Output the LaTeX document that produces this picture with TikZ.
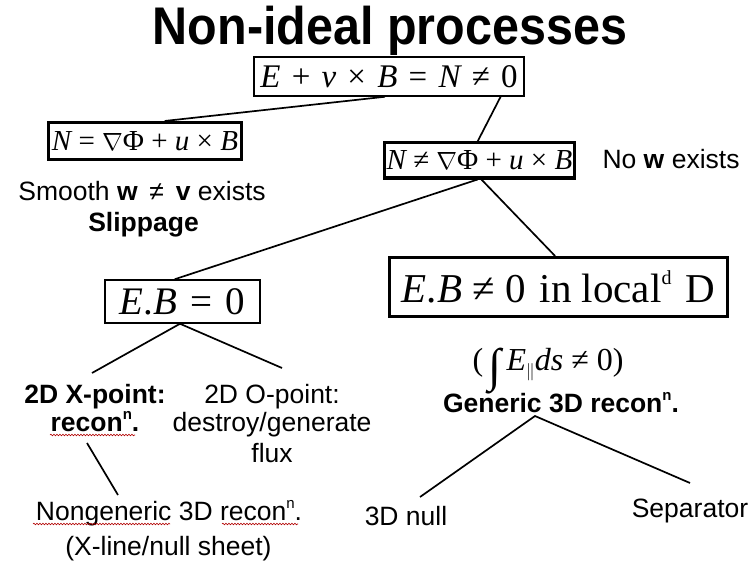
\documentclass[tikz,border=0pt]{standalone}
\usepackage{graphicx}
\usepackage{fontspec}
\setmainfont{Liberation Sans}
\newfontfamily\tms{Liberation Serif}
\usetikzlibrary{calc,decorations.pathmorphing}
\newcommand{\sz}[1]{\fontsize{#1}{#1}\selectfont}
\newcommand{\mi}[1]{{\itshape #1}}
\newcommand{\gp}{\hspace{0.34em}}
\newcommand{\nsup}[1]{\raisebox{0.42em}{\sz{15}#1}}
\begin{document}
\begin{tikzpicture}[x=1pt,y=-1pt,
  eqbox/.style={draw,line width=1.5pt,inner sep=0pt,font=\tms},
  heavybox/.style={draw,line width=3pt,inner sep=0pt,font=\tms},
  lbl/.style={inner sep=0pt,anchor=base,font=\sz{26.5}},
  blbl/.style={lbl,font=\sz{26.5}\bfseries},
  conn/.style={line width=1.7pt},
  squig/.style={draw=red!70!black,line width=0.6pt,decorate,decoration={snake,amplitude=0.8pt,segment length=3pt}}]
\useasboundingbox[fill=white] (0,0) rectangle (754,572);

\node[inner sep=0pt,anchor=base,font=\sz{53}\bfseries,xscale=0.915] (title) at (390,45) {Non-ideal processes};

\node[eqbox,minimum width=270,minimum height=39] (b1) at (389,76.5)
  {\sz{33}\mi{E}\gp+\gp\mi{v}\gp×\gp\mi{B}\gp=\gp\mi{N}\gp≠\gp0};
\node[heavybox,minimum width=193,minimum height=37] (b2) at (145,141)
  {\sz{29}\mi{N} = $\nabla$Φ + \mi{u} × \mi{B}};
\node[heavybox,minimum width=190,minimum height=35] (b3) at (479.5,160.5)
  {\sz{29}\mi{N} ≠ $\nabla$Φ + \mi{u} × \mi{B}};
\node[eqbox,minimum width=155,minimum height=43] (b4) at (182.5,301.5)
  {\sz{39}\mi{E}.\mi{B}\gp=\gp0};
\node[heavybox,minimum width=338,minimum height=59] (b5) at (558.5,287)
  {\sz{41}\mi{E}.\mi{B} ≠ 0\gp in local\raisebox{0.45em}{\sz{20}d}\gp D};
\node[inner sep=0pt,anchor=base,font=\tms] (integ) at (548,370)
  {\sz{32}(\,\raisebox{-11pt}{\resizebox*{!}{46pt}{∫}}\,\mi{E}\raisebox{-6pt}{\sz{16}$\|$}\mi{ds} ≠ 0)};

\node[lbl] (nw) at (671,168) {No \textbf{w} exists};
\node[lbl] (sm) at (142,200) {Smooth \textbf{w} \,≠\, \textbf{v} exists};
\node[blbl] (sl) at (143.5,231) {Slippage};
\node[blbl] (x2a) at (95,403) {2D X-point:};
\node[blbl] (x2b) at (95,431) {recon\nsup{n}.};
\node[lbl] (o2a) at (272,403) {2D O-point:};
\node[lbl] (o2b) at (272,431) {destroy/generate};
\node[lbl] (o2c) at (272,462) {flux};
\node[lbl] (ng) at (169,520) {Nongeneric 3D recon\nsup{n}.};
\node[lbl] (xl) at (168.5,555) {(X-line/null sheet)};
\node[blbl] (gen) at (561,412) {Generic 3D recon\nsup{n}.};
\node[lbl] (n3) at (406,525) {3D null};
\node[lbl] (sep) at (690,517) {Separator};

\coordinate (cx2) at (92,373);
\coordinate (co2) at (282,368);
\coordinate (cx2s) at (87,443);
\coordinate (cng) at (118,495);
\coordinate (cgen) at (535,416);
\coordinate (cn3) at (420,497);
\coordinate (csep) at (690,483);

\draw[conn] ($(b1.south west)!0.485!(b1.south east)$) -- ($(b2.north west)!0.6!(b2.north east)$);
\draw[conn] ($(b1.south west)!0.911!(b1.south east)$) -- ($(b3.north west)!0.49!(b3.north east)$);
\draw[conn] ($(b3.south west)!0.49!(b3.south east)$) -- ($(b4.north west)!0.45!(b4.north east)$);
\draw[conn] ($(b3.south west)!0.51!(b3.south east)$) -- ($(b5.north west)!0.49!(b5.north east)$);
\draw[conn] (cx2) -- ($(b4.south west)!0.484!(b4.south east)$) -- (co2);
\draw[conn] (cx2s) -- (cng);
\draw[conn] (cn3) -- (cgen) -- (csep);

\draw[squig] (50,435) -- (135,435);
\draw[squig] (33,524) -- (170,524);
\draw[squig] (222,524) -- (298,524);
\end{tikzpicture}
\end{document}
